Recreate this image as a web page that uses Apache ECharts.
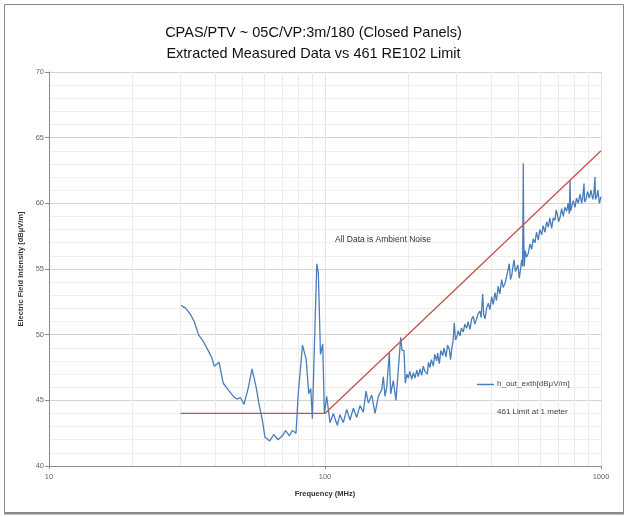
<!DOCTYPE html>
<html>
<head>
<meta charset="utf-8">
<script src="https://cdn.jsdelivr.net/npm/echarts@6/dist/echarts.min.js"></script>
<style>html,body{margin:0;padding:0;background:#fff}#chart{width:627px;height:517px}</style>
</head>
<body>
<div id="chart"></div>
<script>
// Measured data (frequency MHz, level dBuV/m)
const freqs = [
30.1,31.3,32.4,33.6,34.8,36.2,37.7,38.8,39.7,41.3,42.8,44.6,46.6,47.9,49.4,50.9,52.8,54.4,56.3,57.8,
59.4,60.6,63.0,65.2,67.6,70.0,72.0,74.3,76.1,78.5,80.0,82.9,85.5,87.3,88.8,90.0,92.1,93.4,94.6,96.3,
98.1,99.5,
101.4,104.3,107.2,110.8,113.3,116.5,119.9,123.2,126.7,130.3,133.9,137.7,140.8,143.5,147.7,151.8,156.1,160.5,162.7,165.0,
167.4,171.0,173.0,176.8,180.8,184.3,188.1,190.1,193.3,195.4,198,200.4,203,206.1,209,211.9,215,217.8,221,224.0,
227,230.3,234.8,237,240.1,243,246.8,250,253.9,256,259.5,263,267.0,270,274.4,278,282.1,285,287.8,291,
294.1,297,300.0,304,308.4,312,317.0,321,326.1,330,335.2,340,344.5,349,354.4,359,364.3,368,372.6,376,
379.8,385,390.4,396,401.6,407,412.9,418,424.4,430,436.7,442,448.9,457,465.3,470,474.7,479,483.9,490,
495.0,500,505.8,511,516.0,520,523.0,524.5,527,531.8,537,545.3,553,561.0,568,576.7,584,592.8,600,609.9,
617,627.0,635,644.5,652,663.0,671,681.3,688,694.5,702,710.3,720,730.1,740,751.1,760,768,772.1,776,
783.1,793,805.0,815,827.5,839,851.3,860,867.8,872,882.4,894,907.0,920,933.1,942,951.2,955,964.8,975,
986.0,1000
];
const levels = [
52.24,52.0,51.6,51.0,50.0,49.5,48.8,48.3,47.6,47.9,46.3,45.8,45.3,45.1,45.2,44.7,46.0,47.4,46.0,44.6,
43.4,42.2,41.9,42.4,42.0,42.3,42.7,42.3,42.7,42.5,45.5,49.2,48.1,45.5,45.9,43.6,51.1,55.4,54.7,48.5,
49.3,44.0,
45.3,43.3,44.0,43.1,43.9,43.3,44.3,43.5,44.4,43.7,44.6,44.1,45.7,44.8,45.4,44.0,45.3,45.8,46.8,45.3,
46.0,48.6,45.5,46.5,45.0,47.3,49.8,48.8,48.8,46.3,47.0,46.7,47.2,46.6,47.1,46.7,47.3,46.8,47.4,46.9,
47.6,47.2,47.0,47.9,47.5,48.1,47.6,48.5,48.0,48.6,47.8,48.8,48.4,49.0,48.3,49.2,48.9,48.1,48.9,49.5,
50.9,49.6,49.8,50.3,49.9,50.5,50.2,50.8,50.5,51.0,50.4,51.2,51.4,50.8,50.9,51.6,51.8,51.3,53.1,51.5,
51.2,52.0,52.4,51.9,52.9,52.3,53.2,52.6,53.7,53.1,54.2,53.6,53.9,54.6,55.4,54.2,54.5,55.1,55.7,54.8,
54.7,55.3,54.3,55.0,55.7,55.2,63.05,58.2,55.2,56.4,55.9,56.2,56.9,56.5,57.3,57.0,57.8,57.2,58.0,57.6,
58.3,57.8,58.6,58.2,58.9,58.1,58.9,58.7,59.5,59.2,58.6,58.9,59.6,59.0,59.7,59.4,60.0,59.2,61.8,59.4,
59.5,60.2,59.7,60.4,60.0,60.7,60.0,60.6,61.5,60.1,60.3,60.9,60.4,61.0,60.3,60.7,62.0,60.3,60.5,61.0,
60.0,60.5
];
// 461 RE102 limit at 1 meter
const limitFreqs = [30, 100, 1000];
const limitLevels = [44, 44, 64];
// Axis ticks
const yTicks = [40, 45, 50, 55, 60, 65, 70];
const xMinorGrid = [20,30,40,50,60,70,80,90,200,300,400,500,600,700,800,900];

const titleLines = ['CPAS/PTV ~ 05C/VP:3m/180 (Closed Panels)', 'Extracted Measured Data vs 461 RE102 Limit'];
const seriesNames = ['h_out_exth[dBμV/m]', '461 Limit at 1 meter'];

const FONT = 'Liberation Sans';
const chart = echarts.init(document.getElementById('chart'), null, {renderer: 'canvas'});
const measured = freqs.map((f, i) => [f, levels[i]]);
const limit = limitFreqs.map((f, i) => [f, limitLevels[i]]);

chart.setOption({
  animation: false,
  backgroundColor: '#ffffff',
  title: {
    text: titleLines.join('\n'),
    left: 'center',
    top: 17,
    textStyle: {fontFamily: FONT, fontSize: 14.5, fontWeight: 'normal', color: '#111', lineHeight: 21}
  },
  grid: {left: 49, right: 26, top: 72, bottom: 51},
  xAxis: {
    type: 'log', logBase: 10, min: 10, max: 1000,
    name: 'Frequency (MHz)', nameLocation: 'middle', nameGap: 24,
    nameTextStyle: {fontFamily: FONT, fontSize: 7.5, fontWeight: 'bold', color: '#333'},
    axisLine: {lineStyle: {color: '#8c8c8c', width: 1}},
    axisTick: {show: true, length: 3, lineStyle: {color: '#8c8c8c'}},
    axisLabel: {fontFamily: FONT, fontSize: 7.5, color: '#666', margin: 7, formatter: v => String(v)},
    splitLine: {show: true, lineStyle: {color: '#e4e4e4', width: 1}}
  },
  yAxis: {
    type: 'value', min: yTicks[0], max: yTicks[yTicks.length - 1], interval: 5,
    name: 'Electric Field Intensity [dBμV/m]', nameLocation: 'middle', nameGap: 21,
    nameTextStyle: {fontFamily: FONT, fontSize: 7.5, fontWeight: 'bold', color: '#333'},
    axisLine: {show: true, lineStyle: {color: '#8c8c8c', width: 1}},
    axisTick: {show: true, length: 4, lineStyle: {color: '#8c8c8c'}},
    axisLabel: {fontFamily: FONT, fontSize: 7.5, color: '#666', margin: 5},
    splitLine: {show: true, lineStyle: {color: '#d3d3d3', width: 1}},
    minorTick: {show: false, splitNumber: 5},
    minorSplitLine: {show: true, lineStyle: {color: '#efefef', width: 1}}
  },
  series: [
    {
      name: 'grid', type: 'line', data: [], silent: true, z: 0,
      markLine: {
        z: 0, silent: true, symbol: 'none', label: {show: false}, animation: false,
        lineStyle: {color: '#ececec', width: 1, type: 'solid'},
        emphasis: {disabled: true},
        data: xMinorGrid.map(v => ({xAxis: v}))
      }
    },
    {
      name: seriesNames[1], type: 'line', data: limit, showSymbol: false, silent: true,
      lineStyle: {color: '#c8504c', width: 1.3}, z: 3
    },
    {
      name: seriesNames[0], type: 'line', data: measured, showSymbol: false, silent: true,
      lineStyle: {color: '#4a7ebb', width: 1.3}, z: 2
    }
  ],
  graphic: [
    {type: 'rect', z: 100, shape: {x: 4.5, y: 4.5, width: 619, height: 508}, style: {fill: 'none', stroke: '#8a8a8a', lineWidth: 1}, silent: true},
    {type: 'line', z: 100, shape: {x1: 4, y1: 513.5, x2: 624, y2: 513.5}, style: {stroke: '#8a8a8a', lineWidth: 2}, silent: true},
    {type: 'text', z: 100, x: 335, y: 235, style: {text: 'All Data is Ambient Noise', fontFamily: FONT, fontSize: 8.5, fill: '#333'}},
    {type: 'line', z: 100, shape: {x1: 477, y1: 384.5, x2: 494, y2: 384.5}, style: {stroke: '#4a7ebb', lineWidth: 1.5}},
    {type: 'text', z: 100, x: 497, y: 380, style: {text: seriesNames[0], fontFamily: FONT, fontSize: 8, fill: '#444'}},
    {type: 'text', z: 100, x: 497, y: 408, style: {text: seriesNames[1], fontFamily: FONT, fontSize: 8, fill: '#444'}}
  ]
});
</script>
</body>
</html>
